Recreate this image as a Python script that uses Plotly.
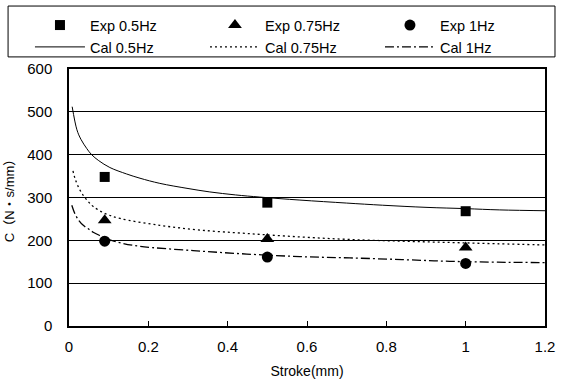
import plotly.graph_objects as go

# Experimental points
exp_x = [0.09, 0.5, 1.0]
exp_05 = [348, 288, 268]
exp_075 = [247, 203, 183]
exp_1 = [198, 161, 146]

# Calculated curves
cal05_x = [0.008, 0.02, 0.03, 0.045, 0.057, 0.075, 0.103, 0.145, 0.179, 0.229, 0.3, 0.355, 0.42, 0.481, 0.582, 0.7, 0.79, 0.9, 1.0, 1.086, 1.21]
cal05_y = [512, 458, 436, 414, 400, 386, 370, 355, 345, 333, 321, 313, 306, 301, 294, 287, 282, 277, 274, 271, 269]

cal075_x = [0.01, 0.015, 0.025, 0.036, 0.049, 0.061, 0.09, 0.129, 0.229, 0.33, 0.448, 0.582, 0.708, 0.84, 0.96, 1.08, 1.21]
cal075_y = [362, 345, 322, 305, 290, 279, 263, 251, 235, 224, 216, 208, 202, 198, 195, 192, 189]

cal1_x = [0.007, 0.015, 0.025, 0.036, 0.05, 0.061, 0.078, 0.095, 0.13, 0.179, 0.313, 0.448, 0.582, 0.708, 0.84, 0.96, 1.08, 1.21]
cal1_y = [282, 262, 246, 235, 226, 219, 211, 204, 194, 186, 176, 168, 162, 159, 155, 151, 149, 148]

x_ticks = [0, 0.2, 0.4, 0.6, 0.8, 1, 1.2]
x_ticklabels = ["0", "0.2", "0.4", "0.6", "0.8", "1", "1.2"]
y_ticks = [0, 100, 200, 300, 400, 500, 600]

fig = go.Figure()
fig.add_trace(go.Scatter(x=exp_x, y=exp_05, mode="markers", name="Exp 0.5Hz",
                         marker=dict(symbol="square", size=10, color="black")))
fig.add_trace(go.Scatter(x=exp_x, y=exp_075, mode="markers", name="Exp 0.75Hz",
                         marker=dict(symbol="triangle-up", size=12, color="black")))
fig.add_trace(go.Scatter(x=exp_x, y=exp_1, mode="markers", name="Exp 1Hz",
                         marker=dict(symbol="circle", size=11, color="black")))
fig.add_trace(go.Scatter(x=cal05_x, y=cal05_y, mode="lines", name="Cal 0.5Hz",
                         line=dict(color="black", width=1, shape="spline")))
fig.add_trace(go.Scatter(x=cal075_x, y=cal075_y, mode="lines", name="Cal 0.75Hz",
                         line=dict(color="black", width=1.3, dash="2px,3px", shape="spline")))
fig.add_trace(go.Scatter(x=cal1_x, y=cal1_y, mode="lines", name="Cal 1Hz",
                         line=dict(color="black", width=1.3, dash="9px,3px,2px,3px", shape="spline")))

font_family = "Liberation Sans, Arial, Noto Sans CJK JP, sans-serif"
fig.update_layout(
    width=562, height=383,
    margin=dict(l=69, r=17, t=69, b=57, autoexpand=False),
    paper_bgcolor="white", plot_bgcolor="white",
    font=dict(family=font_family, size=15, color="black"),
    showlegend=True,
    legend=dict(orientation="h", x=-0.082, xanchor="left", y=1.233, yanchor="top",
                xref="paper", yref="paper",
                borderwidth=0, bgcolor="rgba(0,0,0,0)",
                entrywidth=110, entrywidthmode="pixels",
                font=dict(size=14.5), itemwidth=50, tracegroupgap=0),
    shapes=[dict(type="rect", xref="paper", yref="paper",
                 x0=-0.128, x1=1.021, y0=1.047, y1=1.245,
                 line=dict(color="black", width=1), fillcolor="rgba(0,0,0,0)", layer="below")],
    xaxis=dict(range=[0, 1.2], tickvals=x_ticks, ticktext=x_ticklabels,
               showgrid=False, zeroline=False, showline=True, linecolor="black", linewidth=1.5,
               mirror=True, ticks="inside", ticklen=5, tickcolor="black",
               ticklabelstandoff=6,
               title=dict(text="Stroke(mm)", font=dict(size=14), standoff=12)),
    yaxis=dict(range=[0, 600], tickvals=y_ticks,
               showgrid=True, gridcolor="black", gridwidth=1, zeroline=False,
               showline=True, linecolor="black", linewidth=1.5, mirror=True,
               ticks="", ticklabelstandoff=12,
               title=dict(text="C（N・s/mm）", font=dict(size=13), standoff=10)),
)
fig.write_html("out.html")
